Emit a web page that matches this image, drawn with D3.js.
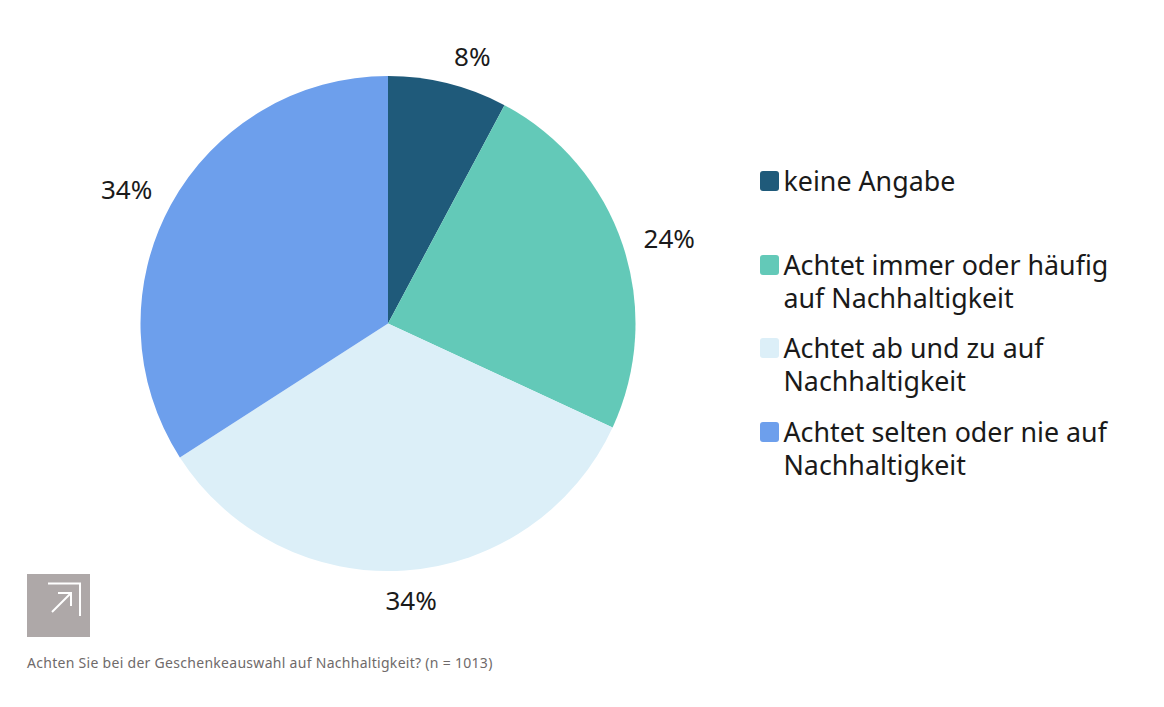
<!DOCTYPE html>
<html>
<head>
<meta charset="utf-8">
<script src="https://cdn.jsdelivr.net/npm/d3@7"></script>
<style>
  html, body { margin: 0; padding: 0; background: #fff; }
  text { font-family: "Noto Sans", sans-serif; }
</style>
</head>
<body>
<div id="chart"></div>
<script>
const categories = ["keine Angabe", "Achtet immer oder häufig auf Nachhaltigkeit", "Achtet ab und zu auf Nachhaltigkeit", "Achtet selten oder nie auf Nachhaltigkeit"];
const values = [7.8, 24.1, 34, 34.1];
const valueLabels = ["8%", "24%", "34%", "34%"];
const colors = ["#1f5a7a", "#63c9b8", "#dceff8", "#6d9fec"];
const legendLines = [["keine Angabe"], ["Achtet immer oder häufig", "auf Nachhaltigkeit"], ["Achtet ab und zu auf", "Nachhaltigkeit"], ["Achtet selten oder nie auf", "Nachhaltigkeit"]];
const caption = "Achten Sie bei der Geschenkeauswahl auf Nachhaltigkeit? (n = 1013)";

const width = 1164;
const height = 707;
const cx = 388, cy = 323.5, radius = 247.5;

const svg = d3.select("#chart").append("svg")
    .attr("width", width)
    .attr("height", height);

const pie = d3.pie().sort(null)(values);
const arc = d3.arc().innerRadius(0).outerRadius(radius);
const labelArc = d3.arc().innerRadius(radius + 36).outerRadius(radius + 36);

// labels in the original sit a bit off the slice centres
const labelNudge = [[15.5, 8], [12.5, 6], [3.5, -5], [-12.5, 2]];

const g = svg.append("g").attr("transform", `translate(${cx},${cy})`);

g.selectAll("path")
    .data(pie)
    .enter()
    .append("path")
    .attr("d", arc)
    .attr("fill", (d, i) => colors[i]);

g.selectAll("text")
    .data(pie)
    .enter()
    .append("text")
    .attr("transform", (d, i) => {
        const c = labelArc.centroid(d);
        return `translate(${c[0] + labelNudge[i][0]},${c[1] + labelNudge[i][1]})`;
    })
    .attr("text-anchor", "middle")
    .attr("dy", "0.35em")
    .attr("font-size", 26)
    .attr("fill", "#1a1a1a")
    .text((d, i) => valueLabels[i]);

const legendY = [181, 265, 348, 432];
const legend = svg.append("g");
categories.forEach((c, i) => {
    const row = legend.append("g").attr("transform", `translate(760,${legendY[i]})`);
    row.append("rect")
        .attr("y", -10).attr("width", 19).attr("height", 20).attr("rx", 3)
        .attr("fill", colors[i]);
    const label = row.append("text")
        .attr("font-size", 26.8)
        .attr("fill", "#1a1a1a");
    legendLines[i].forEach((line, j) => {
        label.append("tspan")
            .attr("x", 23.5).attr("y", j * 33 + 10)
            .text(line);
    });
});

const badge = svg.append("g").attr("transform", "translate(27,574)");
badge.append("rect").attr("width", 63).attr("height", 63).attr("fill", "#aea8a8");
badge.append("path")
    .attr("d", "M21 9.5H53V42M25 38L44 19M31 19H44V32")
    .attr("fill", "none")
    .attr("stroke", "#fff")
    .attr("stroke-width", 2);

svg.append("text")
    .attr("x", 27).attr("y", 668)
    .attr("font-size", 14)
    .attr("letter-spacing", 0.29)
    .attr("fill", "#6f6a6a")
    .text(caption);
</script>
</body>
</html>
